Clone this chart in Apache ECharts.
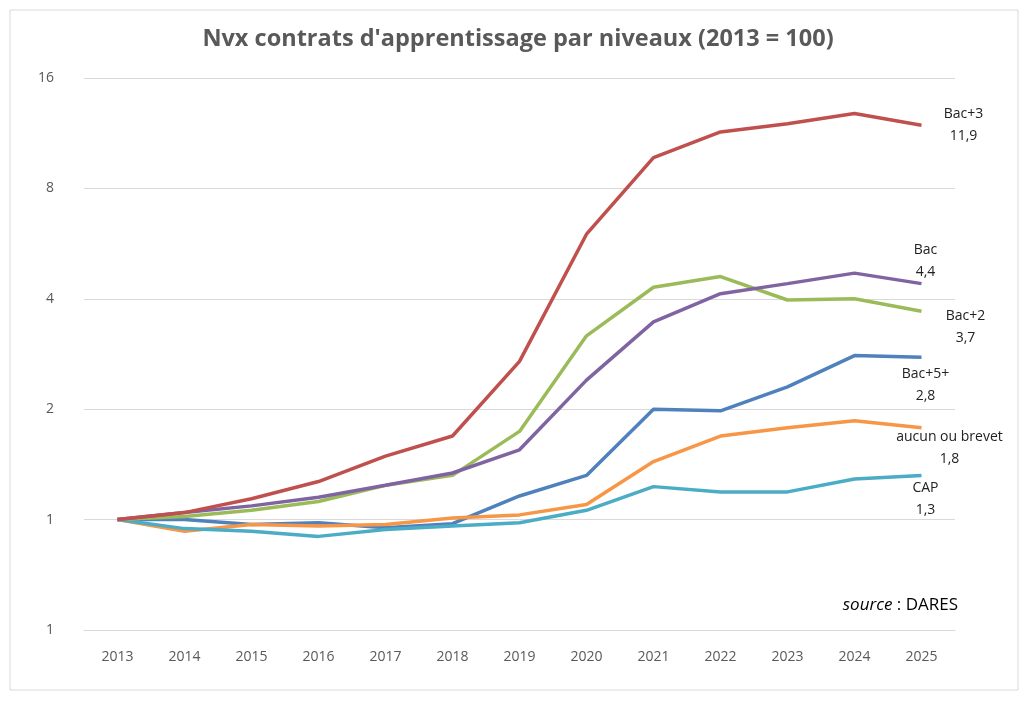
<!DOCTYPE html>
<html>
<head>
<meta charset="utf-8">
<script src="https://cdn.jsdelivr.net/npm/echarts@6/dist/echarts.min.js"></script>
<style>html,body{margin:0;background:#fff}#main{width:1036px;height:702px}</style>
</head>
<body>
<div id="main"></div>
<script>
const years = ['2013','2014','2015','2016','2017','2018','2019','2020','2021','2022','2023','2024','2025'];
const bac3 = [1,1.045,1.14,1.27,1.49,1.69,2.7,6.0,9.7,11.4,12.0,12.8,11.9];
const bac = [1,1.045,1.09,1.15,1.24,1.34,1.55,2.4,3.46,4.13,4.4,4.7,4.4];
const bac2 = [1,1.02,1.06,1.12,1.24,1.32,1.74,3.17,4.3,4.6,3.97,4.0,3.7];
const bac5 = [1,1,0.97,0.98,0.95,0.975,1.16,1.32,2.0,1.98,2.3,2.8,2.77];
const aucun = [1,0.93,0.97,0.96,0.97,1.01,1.03,1.1,1.44,1.69,1.78,1.86,1.78];
const cap = [1,0.945,0.93,0.9,0.94,0.96,0.98,1.06,1.23,1.19,1.19,1.29,1.32];

const chart = echarts.init(document.getElementById('main'));

function line(name, data, color, labelText, offset) {
  return {
    name, type: 'line', data, symbol: 'none',
    lineStyle: { color, width: 3.5 }, itemStyle: { color },
    endLabel: {
      show: true, formatter: labelText, align: 'center', offset,
      color: '#222', fontSize: 14, lineHeight: 22, fontFamily: 'Open Sans'
    }
  };
}

chart.setOption({
  animation: false,
  title: {
    text: "Nvx contrats d'apprentissage par niveaux (2013 = 100)",
    left: 'center', top: 22,
    textStyle: { color: '#595959', fontSize: 23.5, fontWeight: 'bold', fontFamily: 'Open Sans' }
  },
  graphic: [
    { type: 'rect', shape: { x: 10, y: 10, width: 1008, height: 680 },
      style: { fill: 'none', stroke: '#d9d9d9', lineWidth: 1 } },
    { type: 'text', right: 78, top: 597,
      style: { text: '{i|source} : DARES', rich: { i: { fontStyle: 'italic', fontSize: 17, fill: '#000', fontFamily: 'Open Sans' } },
        fontSize: 17, fill: '#000', fontFamily: 'Open Sans' } }
  ],
  grid: { left: 84, right: 81, top: 78, bottom: 72 },
  xAxis: {
    type: 'category', data: years, boundaryGap: true,
    axisLine: { lineStyle: { color: '#d9d9d9' } }, axisTick: { show: false },
    axisLabel: { color: '#595959', fontSize: 14, margin: 20, fontFamily: 'Open Sans' }
  },
  yAxis: {
    type: 'log', logBase: 2, min: 0.5, max: 16,
    axisLine: { show: false }, axisTick: { show: false },
    splitLine: { lineStyle: { color: '#d9d9d9' } },
    axisLabel: { color: '#595959', fontSize: 14, margin: 30, fontFamily: 'Open Sans',
      formatter: v => String(Math.round(v)) }
  },
  series: [
    line('Bac+5+', bac5, '#4f81bd', 'Bac+5+\n2,8', [-4, 28]),
    line('aucun ou brevet', aucun, '#f79646', 'aucun ou brevet\n1,8', [20, 20]),
    line('CAP', cap, '#4bacc6', 'CAP\n1,3', [-4, 24]),
    line('Bac+2', bac2, '#9bbb59', 'Bac+2\n3,7', [36, 16]),
    line('Bac', bac, '#8064a2', 'Bac\n4,4', [-4, -23]),
    line('Bac+3', bac3, '#c0504d', 'Bac+3\n11,9', [34, 0])
  ]
});
</script>
</body>
</html>
